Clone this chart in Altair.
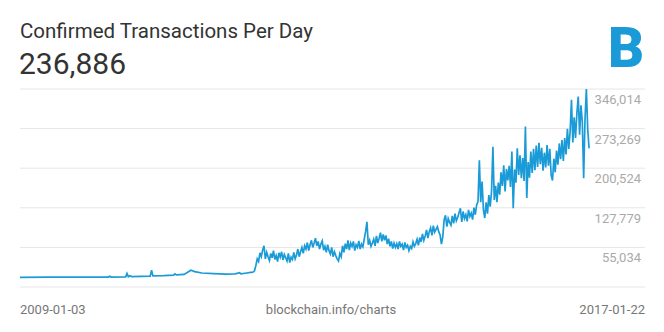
import altair as alt
import pandas as pd

# ---- data (transactions per day, thousands) ----
early_dates = ["2009-01-03", "2009-06-01", "2009-12-01", "2010-04-05", "2010-04-12", "2010-04-19",
               "2010-07-03", "2010-07-10", "2010-07-17", "2010-07-26", "2010-08-03", "2010-11-07",
               "2010-11-14", "2010-11-21", "2011-01-15", "2011-03-08", "2011-03-15", "2011-03-22",
               "2011-05-01", "2011-06-05", "2011-06-25", "2011-08-01", "2011-10-01", "2011-12-01",
               "2012-01-20", "2012-02-12", "2012-02-19", "2012-03-20"]
early_values = [0.0, 0.3, 0.4, 0.5, 2.0, 0.6, 0.8, 7.0, 1.2, 3.0, 1.5, 2.2,
                13.0, 2.8, 3.2, 4.0, 6.5, 4.5, 5.5, 13.0, 10.5, 8.0, 6.8, 6.0,
                6.5, 8.5, 6.5, 8.0]

weekly_start = "2012-04-08"
weekly_values = [
    9, 9, 10, 12,
    22, 34, 29, 45, 38, 50, 58,
    34, 46, 38, 31, 44, 36, 49, 33, 40, 29, 45, 37, 47, 32, 42, 36, 30, 44,
    27, 37,
    33, 46, 34, 41, 52, 38, 47,
    55, 44, 58, 52, 64, 49, 60, 68, 55, 63, 72,
    58, 66, 52, 61, 67, 50, 57, 46, 60, 49,
    43, 55, 38, 47, 40, 34, 30,
    44, 38, 58, 46, 62, 52, 68,
    50, 63, 57, 66, 49, 60, 55, 67, 52, 61, 56,
    70, 84, 102, 60,
    68, 57, 63, 70, 58, 76, 63, 72, 82, 66, 79,
    68, 77, 61, 71, 57, 66, 53, 63, 55,
    62, 52, 66, 57, 61, 50, 64, 55, 59, 49, 57,
    53, 65, 57, 62, 70, 59, 73, 65, 80, 68, 76, 87, 72, 84, 91, 77, 95, 83, 88, 93,
    84, 78, 61, 75,
    106, 114, 93, 108, 101, 96, 113, 99, 117, 104, 110, 119, 127,
    102, 121, 108, 115, 103, 124, 112, 118, 106, 128, 115, 133, 139,
    215, 138, 176, 124, 109, 138, 117, 151, 130, 158, 240,
    142, 168, 138, 174, 152, 193, 168, 206, 158, 199,
    178, 205, 166, 231, 127, 198, 174, 237, 188, 224,
    182, 219, 177, 277, 146, 212, 183, 231, 192, 236,
    197, 242, 203, 247, 208, 238, 196, 229, 202, 243,
    205, 236, 188, 178, 218, 193, 233, 207, 246, 217,
    252, 214, 256, 226, 273, 236, 268, 326, 248, 294,
    256, 302, 332, 262, 316, 286, 182, 291, 346.014, 272,
    236.886,
]

tick_values = [-17711, 55034, 127779, 200524, 273269, 346014]
tick_labels = ["", "55,034", "127,779", "200,524", "273,269", "346,014"]

title_text = "Confirmed Transactions Per Day"
latest_text = "236,886"
start_label = "2009-01-03"
end_label = "2017-01-22"
source_label = "blockchain.info/charts"

# ---- build tables ----
dates = list(pd.to_datetime(early_dates)) + list(
    pd.date_range(weekly_start, periods=len(weekly_values), freq="7D"))
vals = [v * 1000 for v in early_values + weekly_values]
df = pd.DataFrame({"date": dates, "tx": vals})

grid_df = pd.DataFrame({"value": tick_values})
ticks_df = pd.DataFrame({"value": tick_values[1:], "label": tick_labels[1:]})

W, H = 625, 198
FONT = "Roboto"

xscale = alt.Scale(domain=[alt.DateTime(year=2009, month=1, date=3),
                           alt.DateTime(year=2017, month=11, date=7)])
yscale = alt.Scale(domain=[tick_values[0], tick_values[-1]], nice=False, zero=False)

grid = alt.Chart(grid_df).mark_rule(color="#e6e6e6", strokeWidth=1).encode(
    y=alt.Y("value:Q", scale=yscale, axis=None),
    x=alt.value(0),
    x2=alt.value(W),
)

line = alt.Chart(df).mark_line(color="#1a9bd7", strokeWidth=1.7).encode(
    x=alt.X("date:T", scale=xscale, axis=None),
    y=alt.Y("tx:Q", scale=yscale, axis=None),
)

ylabels = alt.Chart(ticks_df).mark_text(
    align="right", baseline="middle", dy=11, fontSize=13, font=FONT, color="#aaaaaa"
).encode(
    y=alt.Y("value:Q", scale=yscale, axis=None),
    x=alt.value(W - 4),
    text="label:N",
)


def label(text, x, y, size, color, align="left", weight="normal"):
    return alt.Chart(pd.DataFrame({"t": [text]})).mark_text(
        align=align, baseline="alphabetic", fontSize=size, font=FONT,
        color=color, fontWeight=weight
    ).encode(x=alt.value(x), y=alt.value(y), text="t:N")


title = label(title_text, 0, -51, 20.5, "#333333")
latest = label(latest_text, -1, -15, 30, "#333333")
logo = label("B", 606, -22, 56, "#1b9ad8", align="center", weight=900)
b1 = label(start_label, 0, H + 27, 13, "#777777")
b2 = label(source_label, 311, H + 27, 13, "#777777", align="center")
b3 = label(end_label, W, H + 27, 13, "#777777", align="right")

chart = alt.layer(grid, line, ylabels, title, latest, logo, b1, b2, b3).properties(
    width=W, height=H,
    padding={"left": 20, "top": 89, "right": 19, "bottom": 45},
    autosize=alt.AutoSizeParams(type="none"),
).configure_view(stroke=None).resolve_scale(y="shared")

chart.save("out.html", embed_options={"renderer": "svg", "actions": False})
